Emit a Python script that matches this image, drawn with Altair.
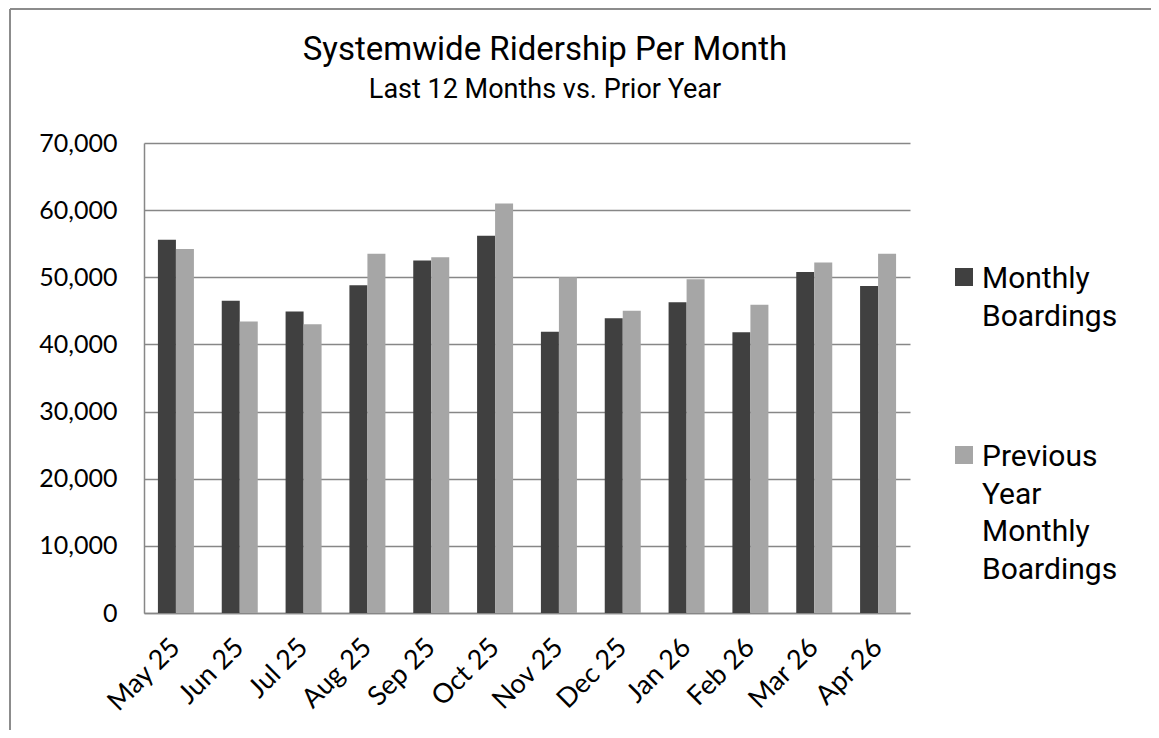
import altair as alt
import pandas as pd

# ---- data ----
months = ["May 25", "Jun 25", "Jul 25", "Aug 25", "Sep 25", "Oct 25",
          "Nov 25", "Dec 25", "Jan 26", "Feb 26", "Mar 26", "Apr 26"]
monthly = [55600, 46500, 44900, 48800, 52500, 56200,
           41900, 43900, 46300, 41800, 50800, 48700]
previous = [54200, 43400, 43000, 53500, 53000, 61000,
            50000, 45000, 49700, 45900, 52200, 53500]
series = ["Monthly Boardings", "Previous Year Monthly Boardings"]
legend_labels = ["Monthly\nBoardings", "Previous\nYear\nMonthly\nBoardings"]
colors = ["#404040", "#a6a6a6"]
y_ticks = [0, 10000, 20000, 30000, 40000, 50000, 60000, 70000]

rows = []
for m, a, b in zip(months, monthly, previous):
    rows.append({"month": m, "series": series[0], "value": a})
    rows.append({"month": m, "series": series[1], "value": b})
df = pd.DataFrame(rows)

W, H = 766, 470
PAD = {"left": 136, "top": 135, "right": 241, "bottom": 117}
GRID = "#878787"
LABEL_FONT = "Lato"
TITLE_FONT = "Roboto"

bars = alt.Chart(df).mark_bar().encode(
    x=alt.X("month:N", sort=months, title=None,
            scale=alt.Scale(paddingInner=0.436, paddingOuter=0.218),
            axis=alt.Axis(labelAngle=-45, labelAlign="right", labelBaseline="middle",
                          labelPadding=30, labelFont=LABEL_FONT, labelFontSize=27,
                          labelColor="#000000", ticks=False, domain=True,
                          domainColor=GRID, domainWidth=1.5, grid=False)),
    xOffset=alt.XOffset("series:N", sort=series,
                        scale=alt.Scale(paddingInner=0, paddingOuter=0)),
    y=alt.Y("value:Q", title=None,
            scale=alt.Scale(domain=[0, 70000], nice=False, zero=True),
            axis=alt.Axis(values=y_ticks, format=",.0f", labelFont=LABEL_FONT,
                          labelFontSize=25, labelColor="#000000", labelPadding=27,
                          ticks=False, domain=True, domainColor=GRID, domainWidth=1.5,
                          grid=True, gridColor=GRID, gridWidth=1.5)),
    color=alt.Color("series:N", scale=alt.Scale(domain=series, range=colors), legend=None),
)

layers = [bars]

# legend drawn as squares + wrapped text on the right
for name, lab, col, y0 in zip(series, legend_labels, colors, [125, 303]):
    sq = alt.Chart(pd.DataFrame({"series": [name]})).mark_rect(color=col).encode(
        x=alt.value(811), x2=alt.value(829), y=alt.value(y0), y2=alt.value(y0 + 18))
    tx = alt.Chart(pd.DataFrame({"label": [lab]})).mark_text(
        align="left", baseline="alphabetic", lineBreak="\n", lineHeight=37.5,
        font=TITLE_FONT, fontSize=30, color="#000000").encode(
        text="label:N", x=alt.value(838), y=alt.value(y0 + 20))
    layers += [sq, tx]

# outer chart frame (left and top edges visible in reference)
frame_left = alt.Chart(pd.DataFrame({"a": [0]})).mark_rule(color="#8c8c8c", strokeWidth=2).encode(
    x=alt.value(-134), y=alt.value(-134), y2=alt.value(H + PAD["bottom"]))
frame_top = alt.Chart(pd.DataFrame({"a": [0]})).mark_rule(color="#8c8c8c", strokeWidth=2).encode(
    x=alt.value(-134), x2=alt.value(W + PAD["right"]), y=alt.value(-134))
layers += [frame_left, frame_top]

chart = alt.layer(*layers).properties(
    width=W, height=H,
    autosize=alt.AutoSizeParams(type="none"),
    padding=PAD,
    background="#ffffff",
    title=alt.TitleParams(
        text="Systemwide Ridership Per Month",
        subtitle="Last 12 Months vs. Prior Year",
        font=TITLE_FONT, fontSize=33, fontWeight="normal", color="#000000",
        subtitleFont=TITLE_FONT, subtitleFontSize=27, subtitleFontWeight="normal",
        subtitleColor="#000000",
        subtitlePadding=10, anchor="middle", frame="group", dx=18, offset=-95),
).configure_view(stroke=None, strokeWidth=0)

chart.save("out.html", embed_options={"renderer": "svg", "actions": False})
